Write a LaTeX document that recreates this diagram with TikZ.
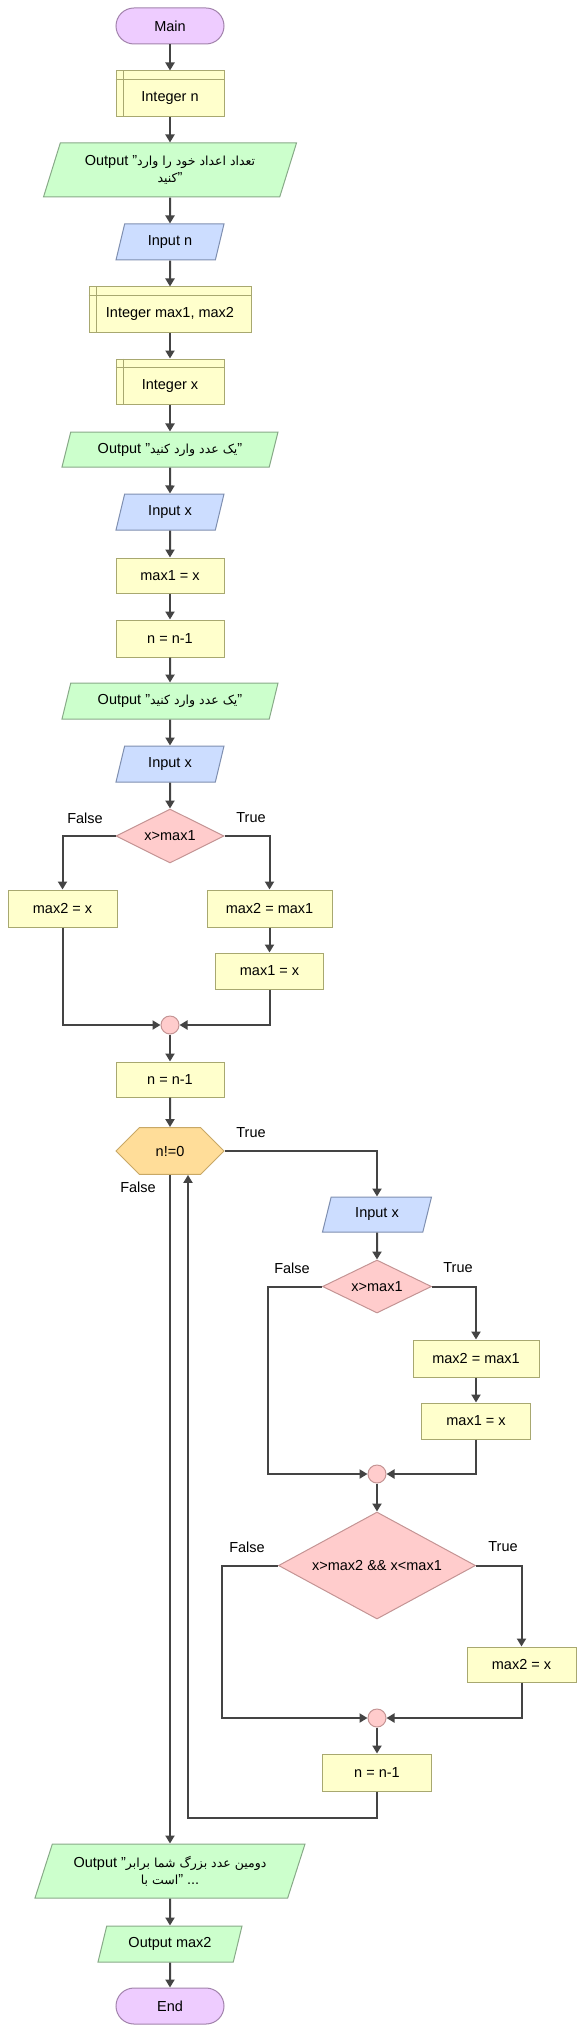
\documentclass[tikz,border=0pt]{standalone}
\usepackage{fontspec}
\setmainfont{Liberation Sans}
\newfontfamily\arabicfont[Script=Arabic]{DejaVu Sans}
\TeXXeTstate=1
\usetikzlibrary{shapes.geometric,shapes.misc,arrows.meta}

\definecolor{termfill}{HTML}{EECCFF}
\definecolor{termline}{HTML}{A283AC}
\definecolor{procfill}{HTML}{FFFFCC}
\definecolor{procline}{HTML}{A8A870}
\definecolor{outfill}{HTML}{CCFFCC}
\definecolor{outline}{HTML}{88AA88}
\definecolor{infill}{HTML}{CCDDFF}
\definecolor{inputline}{HTML}{7F8FB0}
\definecolor{condfill}{HTML}{FFCCCC}
\definecolor{condline}{HTML}{C49494}
\definecolor{loopfill}{HTML}{FFDD99}
\definecolor{loopline}{HTML}{C8A866}
\definecolor{linec}{HTML}{444444}

\newcommand\fa[1]{{\arabicfont\fontsize{12.5}{17}\selectfont\beginR #1\endR}}

\tikzset{
  flow/.style={draw, line width=1pt, font=\fontsize{14.5}{17}\selectfont,
    minimum width=108pt, minimum height=36pt, inner sep=2pt},
  term/.style={flow, rectangle, rounded corners=18pt, fill=termfill, draw=termline},
  proc/.style={flow, rectangle, fill=procfill, draw=procline},
  decl/.style={proc, minimum height=46pt, text height=18pt, text depth=3pt},
  io/.style={flow, trapezium, trapezium left angle=63, trapezium right angle=117,
    trapezium stretches body, align=center},
  outp/.style={io, fill=outfill, draw=outline},
  inp/.style={io, fill=infill, draw=inputline},
  cond/.style={flow, diamond, aspect=2, inner sep=0pt, minimum height=54pt,
    fill=condfill, draw=condline},
  loophex/.style={flow, chamfered rectangle, chamfered rectangle xsep=17pt,
    chamfered rectangle ysep=18pt, fill=loopfill, draw=loopline},
  merge/.style={circle, line width=1pt, minimum size=18pt, inner sep=0pt,
    fill=condfill, draw=condline},
  lbl/.style={font=\fontsize{14.5}{17}\selectfont, inner sep=0pt},
  arr/.style={draw=linec, line width=2pt, -{Triangle[length=8pt,width=9pt]}},
  declline/.style={draw=procline, line width=1pt}
}

\begin{document}
\begin{tikzpicture}[x=1pt,y=-1pt]
  \useasboundingbox (0,0) rectangle (584,2033);

  \node[term] (main) at (170,26) {Main};
  \node[decl] (decln) at (170,94) {Integer n};
  \node[outp, minimum width=253pt, minimum height=54pt] (out1) at (170,170)
    {Output "\fa{تعداد اعداد خود را وارد}\\\fa{کنید}"};
  \node[inp] (inn) at (170,242) {Input n};
  \node[decl, minimum width=162pt, minimum height=45pt] (declmax) at (170,309.5) {Integer max1, max2};
  \node[decl, minimum height=45pt] (declx) at (170,381.5) {Integer x};
  \node[outp, minimum width=216pt, minimum height=35pt] (out2) at (170,449.5)
    {Output "\fa{یک عدد وارد کنید}"};
  \node[inp] (inx1) at (170,512) {Input x};
  \node[proc, minimum height=35pt] (asg1) at (170,575.5) {max1 = x};
  \node[proc, minimum height=37pt] (decn1) at (170,638.5) {n = n-1};
  \node[outp, minimum width=216pt] (out3) at (170,701)
    {Output "\fa{یک عدد وارد کنید}"};
  \node[inp] (inx2) at (170,764) {Input x};
  \node[cond] (cond1) at (170,836) {x>max1};
  \node[proc, minimum width=109pt, minimum height=37pt] (asgA) at (62.5,908.5) {max2 = x};
  \node[proc, minimum width=125pt, minimum height=37pt] (asgB) at (269.5,908.5) {max2 = max1};
  \node[proc] (asgC) at (269.5,971) {max1 = x};
  \node[merge] (merge1) at (170,1025) {};
  \node[proc, minimum height=35pt] (decn2) at (170,1079.5) {n = n-1};
  \node[loophex] (loop) at (170,1151) {n!=0};
  \node[inp, minimum width=109pt, minimum height=35pt] (inx3) at (377,1214.5) {Input x};
  \node[cond, minimum width=109pt, minimum height=53pt] (cond2) at (377,1286.5) {x>max1};
  \node[proc, minimum width=126pt, minimum height=37pt] (asgD) at (476,1358.5) {max2 = max1};
  \node[proc, minimum width=109pt] (asgE) at (476,1421) {max1 = x};
  \node[merge] (merge2) at (377,1474) {};
  \node[cond, minimum width=197pt, minimum height=107pt] (cond3) at (377,1565.5) {x>max2 \&\& x<max1};
  \node[proc, minimum width=109pt, minimum height=35pt] (asgF) at (521.5,1664.5) {max2 = x};
  \node[merge] (merge3) at (377,1718) {};
  \node[proc, minimum width=109pt, minimum height=37pt] (decn3) at (377,1772.5) {n = n-1};
  \node[outp, minimum width=270pt, minimum height=54pt] (out4) at (170,1871)
    {Output "\fa{دومین عدد بزرگ شما برابر}\\\fa{است با}" ...};
  \node[outp, minimum width=144pt] (outmax) at (170,1944) {Output max2};
  \node[term] (endn) at (170,2006) {End};

  \foreach \d in {decln,declmax,declx}
    \draw[declline] ([xshift=8pt]\d.north west) -- ([xshift=8pt]\d.south west)
      ([yshift=-9pt]\d.north west) -- ([yshift=-9pt]\d.north east);

  \foreach \a/\b in {main/decln,decln/out1,out1/inn,inn/declmax,declmax/declx,
      declx/out2,out2/inx1,inx1/asg1,asg1/decn1,decn1/out3,out3/inx2,inx2/cond1,
      asgB/asgC,merge1/decn2,decn2/loop,inx3/cond2,asgD/asgE,merge2/cond3,
      merge3/decn3,out4/outmax,outmax/endn}
    \draw[arr] (\a) -- (\b);

  \draw[arr] (cond1.west) -| (asgA.north);
  \draw[arr] (cond1.east) -| (asgB.north);
  \draw[arr] (asgA.south) |- (merge1.west);
  \draw[arr] (asgC.south) |- (merge1.east);

  \draw[arr] (loop.east) -| (inx3.north);
  \draw[arr] (cond2.west) -- ++(-54,0) |- (merge2.west);
  \draw[arr] (cond2.east) -| (asgD.north);
  \draw[arr] (asgE.south) |- (merge2.east);
  \draw[arr] (cond3.west) -- ++(-56,0) |- (merge3.west);
  \draw[arr] (cond3.east) -| (asgF.north);
  \draw[arr] (asgF.south) |- (merge3.east);
  \draw[arr] (decn3.south) -- ++(0,26) -| ([xshift=18pt]loop.south);
  \draw[arr] (loop.south) -- (loop.south |- out4.north);

  \node[lbl] (f1) at (85,818) {False};
  \node[lbl] (t1) at (251,818) {True};
  \node[lbl] (tl) at (251,1133) {True};
  \node[lbl] (fl) at (138,1187) {False};
  \node[lbl] (f2) at (292,1268) {False};
  \node[lbl] (t2) at (458,1268) {True};
  \node[lbl] (f3) at (247,1547) {False};
  \node[lbl] (t3) at (503,1547) {True};
\end{tikzpicture}
\end{document}
